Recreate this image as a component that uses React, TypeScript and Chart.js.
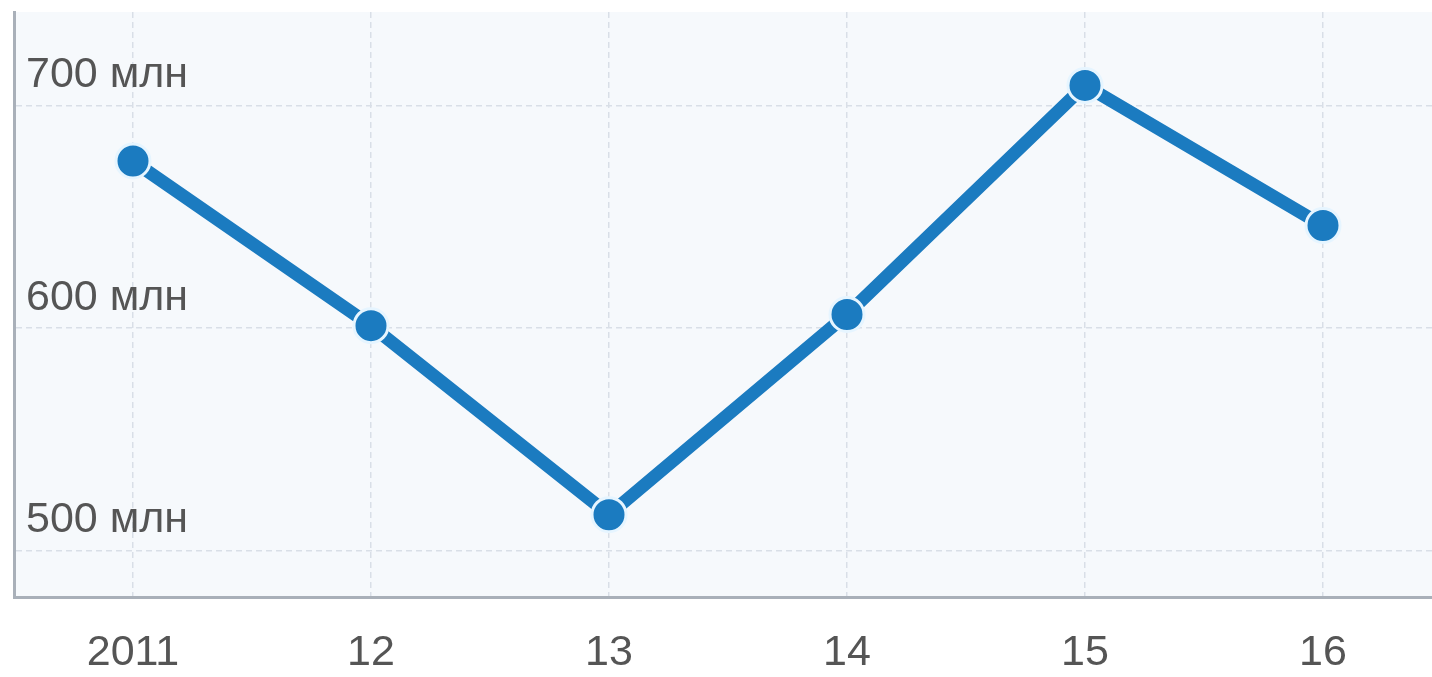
import React, { useEffect, useRef } from "react";
import { Chart, registerables } from "chart.js";

Chart.register(...registerables);

const categories: string[] = ["2011", "12", "13", "14", "15", "16"];
const values: number[] = [675, 601, 516, 606, 709, 646];
const yTickValues: number[] = [500, 600, 700];
const yUnit = " млн";

const plotBg = {
  id: "plotBg",
  beforeDraw(chart: any) {
    const { ctx, chartArea } = chart;
    if (!chartArea) return;
    ctx.save();
    ctx.fillStyle = "#f6f9fc";
    ctx.fillRect(chartArea.left, chartArea.top, chartArea.right - chartArea.left, chartArea.bottom - chartArea.top);
    ctx.restore();
  },
};

export default function App() {
  const ref = useRef<HTMLCanvasElement | null>(null);
  useEffect(() => {
    if (!ref.current) return;
    const font = "'Liberation Sans', Arial, sans-serif";
    const chart = new Chart(ref.current, {
      type: "line",
      data: {
        labels: categories,
        datasets: [
          {
            data: values,
            borderColor: "#1b7bc0",
            borderWidth: 13,
            pointRadius: 17,
            pointHoverRadius: 17,
            pointBackgroundColor: "#1b7bc0",
            pointBorderColor: "#e6f5ff",
            pointBorderWidth: 3,
            tension: 0,
            fill: false,
            clip: false,
          },
        ],
      },
      options: {
        animation: false,
        responsive: true,
        maintainAspectRatio: false,
        layout: { autoPadding: false, padding: { left: 3, top: 12, right: 0, bottom: 0 } },
        plugins: { legend: { display: false }, tooltip: { enabled: false } },
        scales: {
          x: {
            offset: true,
            afterFit: (axis: any) => {
              axis.paddingLeft = 0;
              axis.paddingRight = 0;
              axis.height = 80;
            },
            grid: { color: "#d9dfe7", lineWidth: 1.5, drawTicks: false, offset: false },
            border: { display: true, color: "#a9b0b9", width: 3, dash: [6, 4] },
            ticks: { color: "#555", font: { family: font, size: 43 }, padding: 30 },
          },
          y: {
            min: 479,
            max: 742,
            afterBuildTicks: (axis: any) => {
              axis.ticks = yTickValues.map((v) => ({ value: v }));
            },
            afterFit: (axis: any) => {
              axis.paddingTop = 0;
              axis.paddingBottom = 0;
              axis.width = 11;
            },
            grid: { color: "#d9dfe7", lineWidth: 1.5, drawTicks: false },
            border: { display: true, color: "#a9b0b9", width: 3, dash: [6, 4] },
            ticks: {
              mirror: true,
              padding: 12,
              labelOffset: -30,
              color: "#555",
              font: { family: font, size: 43 },
              callback: (v: any) => v + yUnit,
            },
          },
        },
      },
      plugins: [plotBg],
    });
    return () => chart.destroy();
  }, []);
  return (
    <div style={{ position: "fixed", left: 0, top: 0, width: 1432, height: 677, overflow: "hidden", background: "#fff" }}>
      <div style={{ position: "relative", width: 1442, height: 677 }}>
        <canvas ref={ref} />
      </div>
    </div>
  );
}
